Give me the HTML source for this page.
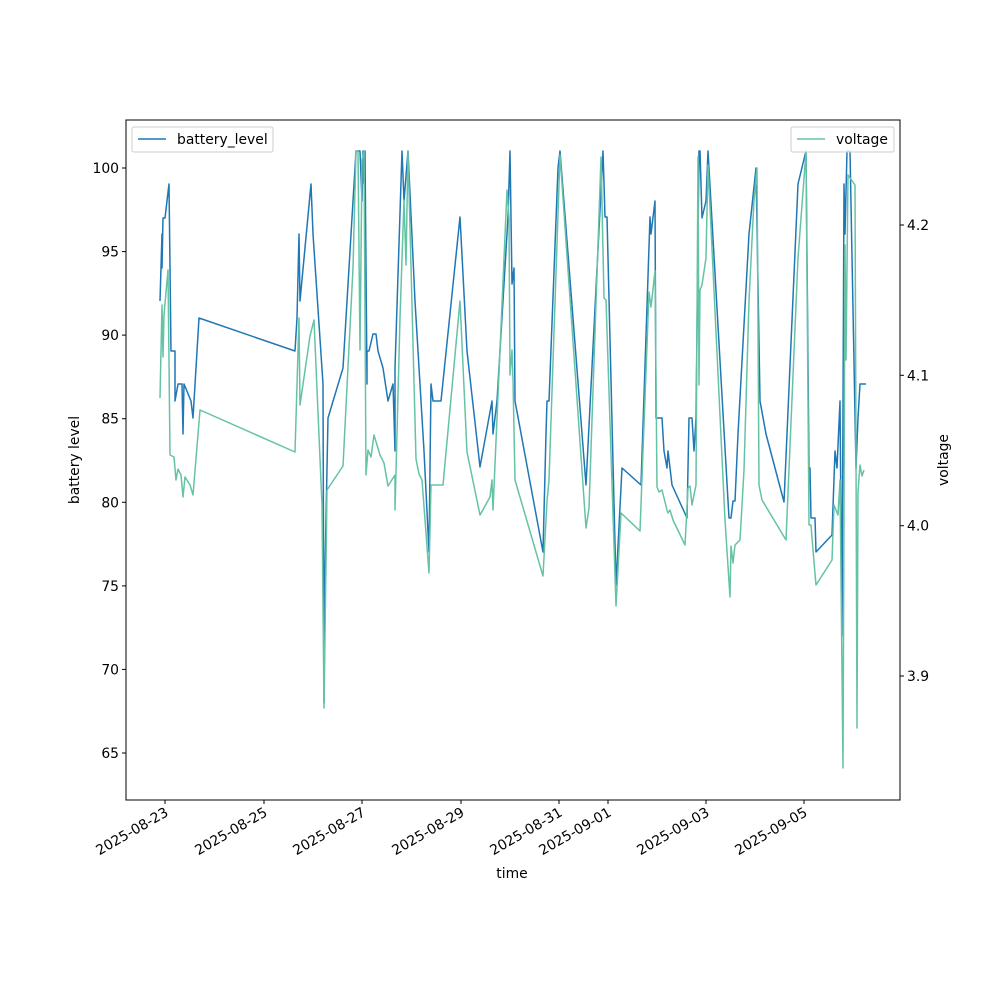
<!DOCTYPE html>
<html><head><meta charset="utf-8"><style>
html,body{margin:0;padding:0;background:#fff}
svg{display:block;font-family:"DejaVu Sans","Liberation Sans",sans-serif}
</style></head><body>
<svg width="1000" height="1000" viewBox="0 0 1000 1000" xmlns="http://www.w3.org/2000/svg">
<rect width="1000" height="1000" fill="#fff"/>
<g fill="none" stroke-linejoin="round" stroke-width="1.5">
<polyline stroke="#1f77b4" points="160,301 162,234 162,268 163,218 165,218 169,184 171,351 175,351 175,401 178,384 182,384 183,434 184,384 191,401 193,418 196,368 199,318 295,351 297,318 299,234 300,301 311,184 313,234 323,384 324,703 325,569 328,418 343,368 356,151 360,151 362,201 363,151 364,184 365,151 367,384 367,351 369,351 373,334 376,334 378,351 383,368 388,401 393,384 395,451 395,368 402,151 404,201 408,151 415,301 424,451 429,552 431,384 433,401 441,401 460,217 467,351 480,467 492,401 493,434 497,401 508,217 510,151 512,284 514,268 515,401 543,552 546,434 547,401 549,401 558,168 560,151 586,485 603,151 605,217 607,217 616,585 622,468 641,485 650,217 651,234 655,201 656,418 662,418 664,451 667,468 668,451 672,485 687,518 689,418 692,418 694,451 696,418 699,151 700,151 702,218 706,201 708,151 729,518 731,518 733,501 735,501 738,434 749,234 756,168 760,401 766,434 784,502 798,184 806,151 809,468 810,468 811,518 815,518 816,552 832,535 835,451 837,468 840,401 842,636 844,184 845,234 847,151 848,151 850,151 856,468 858,418 860,384 866,384"/>
<polyline stroke="#66c2a5" points="160,398 162,305 163,357 164,315 168,270 170,455 174,457 176,480 178,469 181,475 183,497 185,477 190,485 193,495 200,410 295,452 299,318 300,405 310,336 314,320 322,505 324,708 327,490 343,466 353,268 356,151 358,151 360,350 362,160 364,151 366,475 368,450 371,457 374,435 380,455 384,463 388,486 395,475 395,510 400,318 404,200 406,265 408,151 416,459 419,474 422,480 429,573 431,485 443,485 460,301 467,452 480,515 490,497 492,480 493,510 507,190 509,218 510,375 512,350 513,380 515,480 543,576 547,501 549,480 560,155 586,528 589,508 601,157 604,298 606,300 616,606 621,513 640,531 649,292 651,307 655,271 657,487 659,492 662,490 667,510 668,513 670,510 673,520 685,545 688,488 690,486 692,505 696,485 698,157 699,385 700,290 702,285 706,258 708,165 725,520 730,597 731,546 733,563 735,545 740,540 744,470 749,301 754,200 757,168 759,485 762,500 786,540 798,258 806,152 809,525 811,525 813,550 816,585 832,560 834,505 838,515 840,480 843,768 845,245 846,360 848,175 855,185 857,728 858,492 860,465 862,476 864,470"/>
</g>
<rect x="126" y="120" width="774" height="680" fill="none" stroke="#000" stroke-width="1"/>
<g stroke="#000" stroke-width="1">
<line x1="126" y1="168" x2="122" y2="168"/><line x1="126" y1="251.6" x2="122" y2="251.6"/><line x1="126" y1="335.1" x2="122" y2="335.1"/><line x1="126" y1="418.7" x2="122" y2="418.7"/><line x1="126" y1="502.3" x2="122" y2="502.3"/><line x1="126" y1="585.9" x2="122" y2="585.9"/><line x1="126" y1="669.4" x2="122" y2="669.4"/><line x1="126" y1="753" x2="122" y2="753"/>
<line x1="900" y1="225" x2="904" y2="225"/><line x1="900" y1="375.3" x2="904" y2="375.3"/><line x1="900" y1="525.7" x2="904" y2="525.7"/><line x1="900" y1="676" x2="904" y2="676"/>
<line x1="165" y1="800" x2="165" y2="804"/><line x1="264" y1="800" x2="264" y2="804"/><line x1="362" y1="800" x2="362" y2="804"/><line x1="461" y1="800" x2="461" y2="804"/><line x1="559" y1="800" x2="559" y2="804"/><line x1="608" y1="800" x2="608" y2="804"/><line x1="706" y1="800" x2="706" y2="804"/><line x1="804" y1="800" x2="804" y2="804"/>
</g>
<g font-size="13.9" fill="#000" text-anchor="end">
<text x="119" y="173">100</text><text x="119" y="256.6">95</text><text x="119" y="340">90</text><text x="119" y="423.7">85</text><text x="119" y="507.3">80</text><text x="119" y="590.9">75</text><text x="119" y="674.4">70</text><text x="119" y="758">65</text>
</g>
<g font-size="13.9" fill="#000">
<text x="907" y="230">4.2</text><text x="907" y="380.3">4.1</text><text x="907" y="530.7">4.0</text><text x="907" y="681">3.9</text>
</g>
<g font-size="13.9" fill="#000" text-anchor="end">
<text transform="translate(164,806) rotate(-30)" y="10.5">2025-08-23</text>
<text transform="translate(263,806) rotate(-30)" y="10.5">2025-08-25</text>
<text transform="translate(361,806) rotate(-30)" y="10.5">2025-08-27</text>
<text transform="translate(460,806) rotate(-30)" y="10.5">2025-08-29</text>
<text transform="translate(558,806) rotate(-30)" y="10.5">2025-08-31</text>
<text transform="translate(607,806) rotate(-30)" y="10.5">2025-09-01</text>
<text transform="translate(705,806) rotate(-30)" y="10.5">2025-09-03</text>
<text transform="translate(803,806) rotate(-30)" y="10.5">2025-09-05</text>
</g>
<text x="512" y="878" font-size="13.9" text-anchor="middle">time</text>
<text transform="translate(79,460) rotate(-90)" font-size="13.9" text-anchor="middle">battery level</text>
<text transform="translate(948,460) rotate(-90)" font-size="13.9" text-anchor="middle">voltage</text>
<rect x="132" y="127" width="141" height="25" rx="2" fill="#fff" fill-opacity="0.8" stroke="#ccc"/>
<line x1="138" y1="139" x2="166" y2="139" stroke="#1f77b4" stroke-width="1.5"/>
<text x="177" y="144" font-size="13.9">battery_level</text>
<rect x="791" y="127" width="103" height="25" rx="2" fill="#fff" fill-opacity="0.8" stroke="#ccc"/>
<line x1="797" y1="139" x2="825" y2="139" stroke="#66c2a5" stroke-width="1.5"/>
<text x="836" y="144" font-size="13.9">voltage</text>
</svg>
</body></html>
